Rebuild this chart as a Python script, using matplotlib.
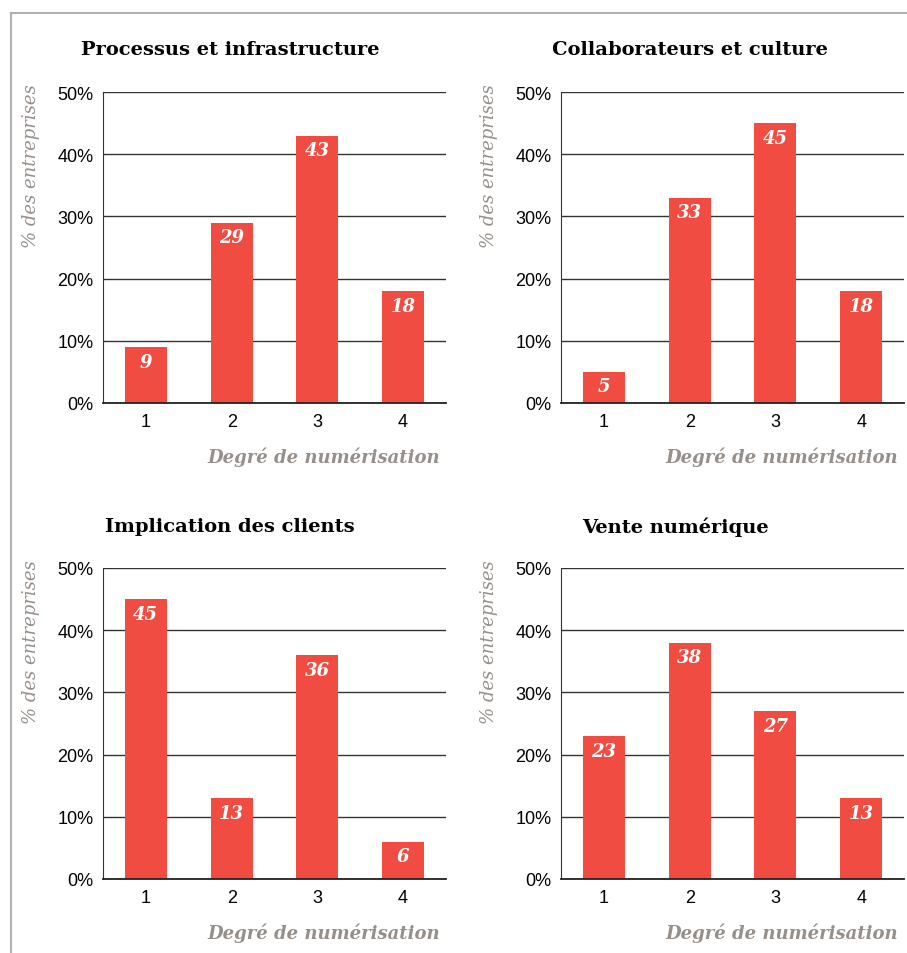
import matplotlib
matplotlib.use("Agg")
import matplotlib.pyplot as plt
from matplotlib.lines import Line2D

# data
degrees = [1, 2, 3, 4]
titles = ["Processus et infrastructure", "Collaborateurs et culture",
          "Implication des clients", "Vente numérique"]
processus = [9, 29, 43, 18]
collaborateurs = [5, 33, 45, 18]
clients = [45, 13, 36, 6]
vente = [23, 38, 27, 13]
yticks = [0, 10, 20, 30, 40, 50]
ytick_labels = ["0%", "10%", "20%", "30%", "40%", "50%"]

series = [processus, collaborateurs, clients, vente]

W, H = 907, 954
fig = plt.figure(figsize=(W / 100, H / 100), dpi=100)

bar_color = "#F04C41"
gray_txt = "#978f8a"
serif = ["DejaVu Serif"]


def px(x, y):
    """pixel position -> figure fraction"""
    return x / W, 1 - y / H


# axes boxes in pixels: left, top, right, bottom
boxes = [(103, 93, 446, 404), (561, 93, 904, 404),
         (103, 569, 446, 880), (561, 569, 904, 880)]
title_pos = [(230, 50), (690, 50), (230, 527), (675, 527)]

for i, (vals, box) in enumerate(zip(series, boxes)):
    l, t, r, b = box
    ax = fig.add_axes([l / W, 1 - b / H, (r - l) / W, (b - t) / H])
    ax.bar(degrees, vals, width=0.49, color=bar_color, zorder=3)
    ax.set_xlim(0.5, 4.5)
    ax.set_ylim(0, 50)
    ax.set_yticks(yticks)
    ax.set_yticklabels(ytick_labels, fontsize=13, family="Liberation Sans")
    ax.set_xticks(degrees)
    ax.set_xticklabels([str(d) for d in degrees], fontsize=13,
                       family="Liberation Sans")
    ax.tick_params(length=0, pad=7)
    ax.yaxis.grid(True, color="#333333", linewidth=1.0, zorder=1)
    for s in ["top", "right"]:
        ax.spines[s].set_visible(False)
    ax.spines["left"].set_color("#333333")
    ax.spines["bottom"].set_color("#222222")
    ax.spines["bottom"].set_linewidth(1.3)
    ax.spines["bottom"].set_zorder(4)
    for d, v in zip(degrees, vals):
        ax.text(d, v - 0.9, str(v), ha="center", va="top", color="white",
                fontsize=13, fontweight="bold", fontstyle="italic",
                family=serif, zorder=5)

    # y label, x label and panel title placed in pixels
    fig.text(*px(l - 72, t + 73), "% des entreprises",
             rotation=90, ha="center", va="center", fontsize=13,
             fontstyle="italic", color=gray_txt, family=serif)
    fig.text(*px(r - 6, b + 53), "Degré de numérisation", ha="right",
             va="center", fontsize=13, fontstyle="italic", fontweight="bold",
             color=gray_txt, family=serif)
    tx, ty = title_pos[i]
    fig.text(*px(tx, ty), titles[i], ha="center", va="center",
             fontsize=14, fontweight="bold", family=serif, color="black")

# light frame on the left and top
fig.add_artist(Line2D([11 / W, 11 / W], [0, 1 - 14 / H], color="#b5b0ab",
                      linewidth=1.5, transform=fig.transFigure))
fig.add_artist(Line2D([11 / W, 1], [1 - 14 / H, 1 - 14 / H], color="#b5b0ab",
                      linewidth=1.5, transform=fig.transFigure))

fig.savefig("out.png", dpi=100)
